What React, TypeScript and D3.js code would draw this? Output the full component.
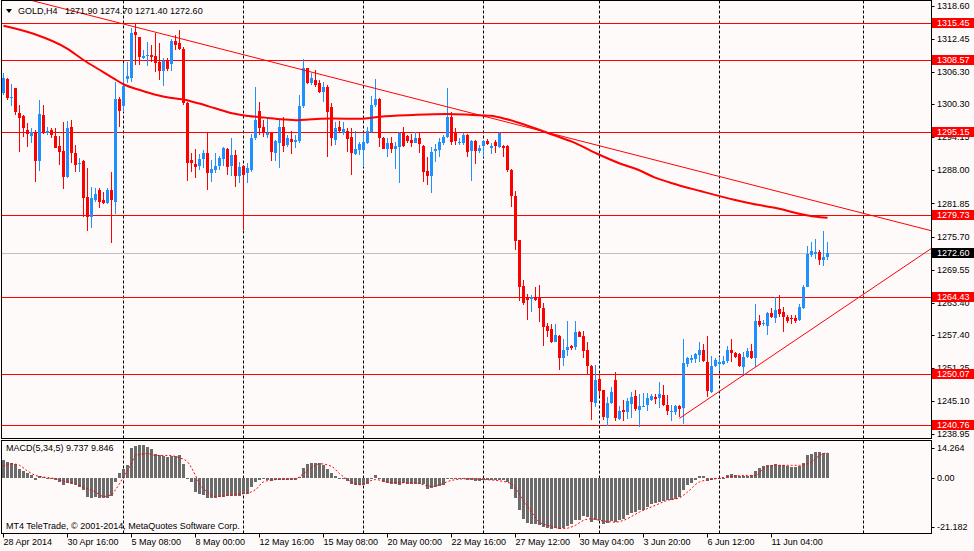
import React from "react";
import * as d3 from "d3";

const WIDTH = 974;
const HEIGHT = 551;

// H4 candles, one per bar index (28 Apr 2014 00:00 = bar 0)
const opens = [
  1302.32, 1304.99, 1301.4, 1303.25, 1298.73, 1298.18, 1295.51, 1294.46, 1295.2, 1289.82,
  1298.3, 1294.9, 1295.51, 1294.46, 1292.6, 1291.68, 1286.73, 1296.13, 1291.18, 1289.14,
  1289.82, 1283.01, 1279.24, 1282.52, 1284.37, 1282.52, 1282.02, 1284.37, 1282.21, 1301.21,
  1300.03, 1304.99, 1305.23, 1313.77, 1312.85, 1308.95, 1309.26, 1309.44, 1309.32, 1308.2,
  1306.47, 1308.51, 1307.8, 1312.1, 1311.72, 1310.5, 1300.46, 1289.94, 1289.26, 1288.89,
  1290.07, 1291.3, 1287.47, 1288.08, 1288.83, 1290.07, 1291.92, 1288.83, 1290.87, 1286.97,
  1288.83, 1287.47, 1288.08, 1293.97, 1299.04, 1296.13, 1294.58, 1295.02, 1291.3, 1293.04,
  1296.13, 1292.73, 1293.84, 1293.22, 1293.47, 1299.97, 1306.96, 1304.18, 1304.8, 1304.18,
  1302.51, 1303.56, 1299.84, 1293.65, 1296.13, 1295.01, 1295.32, 1294.27, 1291.05, 1291.79,
  1291.79, 1293.03, 1295.2, 1300.15, 1301.26, 1294.08, 1291.98, 1293.16, 1291.98, 1292.29,
  1295.01, 1294.46, 1293.65, 1293.16, 1294.08, 1292.54, 1287.89, 1286.97, 1291.67, 1291.79,
  1293.03, 1294.27, 1297.86, 1295.2, 1293.03, 1293.16, 1294.58, 1291.67, 1293.46, 1291.67,
  1292.54, 1293.53, 1292.23, 1293.34, 1292.41, 1292.54, 1292.54, 1288.07, 1283.24, 1275.07,
  1266.53, 1264.24, 1264.05, 1264.24, 1264.24, 1262.51, 1259.1, 1258.48, 1256.19, 1257.25,
  1253.1, 1254.65, 1255.39, 1255.14, 1258.05, 1257.25, 1254.65, 1251.55, 1244.74, 1249.2,
  1247.22, 1241.96, 1244.74, 1249.07, 1241.77, 1243.5, 1243.01, 1244.56, 1245.98, 1243.5,
  1244.12, 1244.43, 1245.36, 1245.86, 1245.67, 1246.29, 1244.31, 1243.18, 1243.18, 1244.24,
  1243.8, 1251.97, 1252.78, 1252.9, 1253.71, 1254.64, 1252.34, 1246.9, 1251.73, 1251.97,
  1252.04, 1252.66, 1254.64, 1254.14, 1253.89, 1251.54, 1253.4, 1254.51, 1253.09, 1260.02,
  1259.46, 1259.09, 1261.57, 1260.64, 1262.25, 1261.63, 1260.83, 1260.64, 1260.52, 1260.21,
  1262.5, 1266.27, 1272.28, 1272.46, 1272.9, 1271.35, 1271.9,
];
const highs = [
  1306.04, 1305.23, 1304.0, 1303.38, 1300.16, 1298.3, 1296.75, 1295.82, 1295.51, 1301.09,
  1300.16, 1296.13, 1295.82, 1295.82, 1294.46, 1297.06, 1297.19, 1297.37, 1292.73, 1290.25,
  1289.94, 1288.4, 1284.87, 1284.68, 1284.68, 1284.06, 1284.81, 1287.78, 1304.49, 1301.7,
  1307.71, 1308.2, 1314.39, 1315.2, 1312.85, 1310.37, 1311.92, 1311.3, 1313.47, 1311.61,
  1308.82, 1308.82, 1312.41, 1313.15, 1314.08, 1310.9, 1300.76, 1291.18, 1291.92, 1291.06,
  1291.8, 1295.08, 1289.94, 1291.3, 1290.75, 1292.42, 1292.11, 1293.97, 1291.8, 1289.63,
  1289.01, 1289.32, 1294.71, 1303.56, 1300.77, 1297.37, 1297.68, 1295.2, 1293.66, 1297.37,
  1297.99, 1294.58, 1295.33, 1294.58, 1302.01, 1308.7, 1307.09, 1306.04, 1306.65, 1304.8,
  1304.49, 1303.87, 1300.46, 1297.06, 1297.24, 1297.06, 1295.82, 1295.82, 1295.38, 1293.34,
  1294.89, 1296.13, 1301.82, 1304.92, 1301.39, 1294.27, 1293.96, 1294.27, 1293.34, 1295.2,
  1296.13, 1294.58, 1294.7, 1295.2, 1294.89, 1292.72, 1290.56, 1292.41, 1292.91, 1293.96,
  1294.58, 1303.25, 1298.91, 1295.82, 1293.96, 1294.89, 1294.7, 1293.65, 1293.65, 1292.72,
  1293.65, 1293.84, 1293.16, 1293.65, 1295.2, 1292.72, 1292.72, 1288.2, 1284.17, 1275.07,
  1267.64, 1264.98, 1264.86, 1266.41, 1266.72, 1263.31, 1259.6, 1259.41, 1259.41, 1257.43,
  1256.69, 1260.03, 1255.57, 1260.03, 1258.17, 1258.17, 1256.19, 1251.86, 1251.86, 1250.13,
  1247.22, 1245.79, 1247.65, 1250.44, 1244.12, 1245.36, 1245.67, 1246.78, 1247.22, 1246.41,
  1246.6, 1246.6, 1246.41, 1246.41, 1248.64, 1248.02, 1246.29, 1244.42, 1244.42, 1244.42,
  1256.68, 1253.4, 1253.71, 1254.02, 1256.18, 1255.75, 1257.23, 1253.52, 1253.09, 1253.4,
  1253.52, 1255.44, 1256.62, 1254.33, 1254.14, 1254.33, 1254.95, 1255.69, 1263.18, 1261.13,
  1260.21, 1261.75, 1262.37, 1264.42, 1264.85, 1262.68, 1261.13, 1261.13, 1261.13, 1263.18,
  1266.7, 1273.95, 1274.75, 1275.19, 1273.2, 1276.73, 1274.7,
];
const lows = [
  1302.01, 1301.09, 1300.03, 1298.3, 1291.49, 1294.28, 1292.42, 1293.04, 1285.8, 1287.96,
  1294.77, 1294.59, 1294.09, 1292.11, 1289.02, 1284.56, 1286.54, 1289.33, 1287.65, 1287.78,
  1279.24, 1276.76, 1277.25, 1282.21, 1281.09, 1281.71, 1281.71, 1274.59, 1279.85, 1296.13,
  1298.8, 1304.18, 1304.49, 1307.59, 1307.59, 1308.7, 1307.46, 1308.2, 1306.22, 1304.8,
  1303.75, 1306.47, 1306.52, 1310.37, 1310.37, 1300.2, 1286.0, 1287.77, 1286.66, 1288.08,
  1288.39, 1284.37, 1285.92, 1287.47, 1288.08, 1288.83, 1287.16, 1286.97, 1284.99, 1285.61,
  1276.94, 1285.61, 1287.77, 1293.66, 1294.58, 1294.28, 1294.09, 1289.76, 1289.76, 1288.52,
  1291.49, 1292.42, 1291.12, 1292.23, 1293.04, 1299.66, 1304.0, 1303.87, 1303.56, 1302.32,
  1300.77, 1290.56, 1292.54, 1292.72, 1294.89, 1294.58, 1291.48, 1287.15, 1290.87, 1290.87,
  1288.7, 1292.91, 1294.89, 1299.84, 1292.41, 1291.92, 1290.56, 1291.3, 1288.2, 1285.6,
  1292.41, 1293.16, 1292.41, 1293.03, 1291.18, 1285.91, 1285.29, 1283.87, 1289.63, 1290.56,
  1292.72, 1293.96, 1292.72, 1292.72, 1292.72, 1292.72, 1290.56, 1286.1, 1289.13, 1291.3,
  1290.43, 1292.72, 1290.99, 1291.3, 1292.1, 1290.56, 1287.77, 1281.26, 1273.21, 1263.81,
  1263.0, 1260.22, 1261.76, 1263.81, 1259.91, 1255.39, 1257.12, 1255.88, 1256.07, 1250.81,
  1251.55, 1253.41, 1254.65, 1254.65, 1256.94, 1253.1, 1249.88, 1241.65, 1243.94, 1245.98,
  1241.65, 1240.41, 1244.56, 1241.34, 1241.52, 1241.34, 1241.83, 1241.96, 1243.19, 1240.29,
  1243.94, 1243.19, 1245.05, 1244.56, 1243.81, 1244.12, 1242.57, 1241.33, 1242.56, 1242.25,
  1240.83, 1251.54, 1252.16, 1252.16, 1252.47, 1252.47, 1245.97, 1246.59, 1251.54, 1250.92,
  1251.85, 1252.16, 1252.47, 1253.09, 1251.54, 1249.81, 1253.09, 1252.9, 1251.54, 1258.97,
  1259.09, 1257.42, 1260.52, 1259.71, 1260.83, 1258.04, 1259.71, 1259.46, 1259.71, 1260.08,
  1262.19, 1266.27, 1271.84, 1271.47, 1270.42, 1270.23, 1271.4,
];
const closes = [
  1305.11, 1301.4, 1301.58, 1298.8, 1297.68, 1295.82, 1294.71, 1295.2, 1289.82, 1298.49,
  1294.9, 1295.33, 1294.59, 1292.23, 1291.49, 1286.85, 1295.95, 1291.18, 1289.02, 1289.45,
  1282.95, 1279.24, 1282.83, 1283.63, 1282.21, 1282.02, 1284.37, 1282.52, 1301.27, 1299.04,
  1303.69, 1305.54, 1313.59, 1313.16, 1309.01, 1309.26, 1309.44, 1309.01, 1308.02, 1306.47,
  1308.39, 1306.84, 1312.1, 1311.3, 1310.5, 1300.46, 1289.4, 1289.45, 1288.7, 1290.13,
  1291.18, 1287.59, 1288.21, 1288.83, 1290.25, 1292.11, 1288.7, 1290.87, 1286.97, 1288.58,
  1287.16, 1288.39, 1293.97, 1297.37, 1295.95, 1295.2, 1295.02, 1291.49, 1293.47, 1296.13,
  1292.6, 1293.97, 1293.35, 1293.66, 1299.97, 1306.96, 1304.18, 1305.23, 1303.87, 1302.63,
  1303.56, 1298.92, 1293.96, 1295.94, 1295.32, 1295.63, 1293.84, 1291.18, 1291.98, 1292.91,
  1293.34, 1295.32, 1300.15, 1301.26, 1294.08, 1291.98, 1293.03, 1291.98, 1292.54, 1295.01,
  1292.54, 1293.53, 1293.16, 1293.96, 1292.91, 1287.77, 1286.97, 1291.48, 1291.98, 1293.34,
  1294.27, 1297.98, 1293.34, 1293.46, 1293.34, 1294.58, 1291.48, 1293.46, 1291.67, 1292.23,
  1293.46, 1292.91, 1292.54, 1292.54, 1295.01, 1292.23, 1288.07, 1283.24, 1274.89, 1266.41,
  1263.44, 1263.93, 1264.42, 1263.93, 1262.51, 1258.98, 1258.17, 1256.01, 1257.43, 1253.1,
  1254.65, 1255.26, 1254.95, 1258.05, 1257.12, 1254.34, 1251.55, 1244.87, 1249.07, 1247.03,
  1242.08, 1244.74, 1246.72, 1241.96, 1243.19, 1243.01, 1245.05, 1245.86, 1243.63, 1244.25,
  1244.25, 1245.67, 1245.98, 1245.48, 1246.47, 1244.31, 1243.19, 1243.37, 1244.24, 1243.68,
  1252.16, 1253.09, 1253.21, 1253.89, 1254.64, 1252.66, 1247.02, 1251.73, 1252.78, 1252.34,
  1252.66, 1254.64, 1254.14, 1253.4, 1251.73, 1253.4, 1254.51, 1253.09, 1260.02, 1259.28,
  1259.59, 1261.44, 1260.7, 1262.06, 1261.26, 1260.7, 1260.02, 1260.33, 1260.08, 1262.68,
  1266.27, 1272.4, 1273.02, 1272.9, 1271.35, 1271.97, 1272.6,
];

// MACD(5,34,5) histogram, one value per bar
const macdHist = [
  6.81, 6.16, 5.91, 5.26, 3.6, 2.7, 1.93, 1.03, -0.9, 0.64,
  0.39, 0.13, -0.26, -0.64, -1.54, -2.57, -1.93, -2.18, -2.57, -3.47,
  -4.75, -7.32, -7.58, -7.32, -7.7, -7.58, -7.58, -7.06, -1.54, 1.93,
  3.6, 4.88, 11.5, 12.4, 12.8, 12.6, 12.0, 11.2, 9.12, 8.73,
  8.35, 8.09, 8.35, 8.35, 8.73, 5.52, -0.26, -1.54, -5.39, -6.29,
  -6.68, -7.58, -7.58, -7.58, -7.32, -7.32, -7.06, -7.06, -7.06, -7.06,
  -6.03, -6.03, -3.47, -1.54, -0.64, 0.13, -0.64, -1.16, -0.9, -0.9,
  -0.64, -0.64, -0.64, -0.64, 0.39, 3.98, 5.26, 5.91, 5.91, 5.78,
  4.88, 3.6, 1.93, 0.64, -0.26, -0.26, -1.16, -2.18, -2.57, -2.82,
  -2.57, -2.18, -0.26, 1.03, -0.26, -1.54, -1.8, -2.18, -2.18, -2.57,
  -1.93, -2.18, -2.18, -2.18, -2.18, -2.18, -4.11, -3.85, -3.47, -3.21,
  -2.57, 0.13, -0.26, -0.26, -0.26, -0.51, -0.64, -0.64, -1.16, -1.28,
  -0.9, -0.9, -0.64, -0.64, -0.64, -0.9, -1.54, -4.11, -7.58, -12.45,
  -15.67, -17.33, -17.85, -17.85, -18.23, -18.87, -19.26, -19.52, -19.26, -19.52,
  -19.13, -18.62, -17.85, -16.31, -16.05, -14.77, -15.02, -16.95, -16.31, -16.31,
  -17.59, -17.33, -16.56, -16.95, -16.31, -15.67, -14.38, -13.48, -13.1, -12.45,
  -12.2, -11.17, -10.14, -9.63, -9.24, -8.86, -8.35, -8.35, -8.22, -7.32,
  -4.75, -2.82, -1.8, -0.64, 0.64, 0.64, -1.28, -0.9, -0.51, -0.26,
  0.05, 1.03, 1.41, 1.03, 0.77, 0.64, 0.77, 1.03, 2.57, 3.85,
  4.49, 4.88, 4.88, 5.26, 4.88, 4.88, 4.49, 4.24, 4.24, 4.49,
  5.78, 8.73, 9.37, 10.02, 10.02, 9.63, 9.737,
];

// signal line, read as [bar, value]
const signalPoints: [number, number][] = [
  [0, 4.5], [2, 5.5], [4, 4.9], [6, 2.7], [8, 1.0], [10, 0.4], [13, -0.3], [15, -1.2],
  [18, -2.2], [20, -3.5], [23, -5.4], [25, -7.1], [27, -6.4], [28, -4.5], [29, -2.2],
  [30, 0.4], [32, 5.5], [33, 8.7], [36, 9.4], [38, 8.7], [41, 8.7], [44, 7.8], [46, 6.2],
  [48, 1.0], [49, -2.2], [51, -5.4], [53, -7.1], [58, -6.3], [61, -5.8], [63, -4.5],
  [65, -1.5], [68, -0.6], [73, -0.3], [75, 1.7], [78, 4.9], [79, 5.5], [82, 4.5],
  [84, 1.7], [87, -1.5], [89, -2.6], [91, -1.5], [93, -0.6], [96, -1.5], [99, -1.8],
  [103, -1.9], [107, -3.2], [109, -2.6], [112, -0.9], [116, -0.3], [120, -0.6],
  [123, -0.9], [127, -2.2], [128, -4.1], [132, -13.1], [134, -17.0], [136, -18.2],
  [140, -19.5], [143, -18.2], [145, -16.3], [147, -15.7], [149, -16.3], [153, -17.0],
  [155, -16.3], [159, -13.1], [163, -10.5], [166, -8.6], [169, -7.6], [171, -5.4],
  [174, -1.5], [178, -0.3], [181, 0.4], [186, 1.0], [188, 1.0], [190, 3.6], [193, 4.9],
  [197, 4.9], [199, 4.9], [202, 6.2], [204, 8.7], [206, 9.846],
];

// moving average on the price panel, read as [bar, price]
const maPoints: [number, number][] = [
  [0, 1314.88], [7.5, 1313.38], [15.8, 1310.68], [20, 1308.51], [24.1, 1306.65],
  [27.5, 1305.11], [30, 1304.0], [34.1, 1302.93], [38.3, 1302.0], [41.6, 1301.5],
  [44.6, 1301.2], [48.7, 1300.46], [52.9, 1299.53], [57.1, 1298.6], [61.3, 1298.1],
  [65.4, 1297.8], [69.6, 1297.5], [73.7, 1297.3], [76.2, 1297.45], [82.1, 1297.62],
  [89.9, 1297.6], [94.2, 1297.97], [102.4, 1298.29], [110.9, 1298.47], [117.4, 1298.29],
  [121.7, 1298.16], [125.9, 1297.49], [129.2, 1296.75], [137.5, 1294.57], [142.1, 1293.33],
  [149.1, 1290.85], [154.6, 1289.13], [158.8, 1288.07], [162.9, 1286.64], [166.7, 1285.71],
  [174.2, 1284.16], [182.9, 1282.49], [187.5, 1281.75], [193.4, 1280.95], [199.2, 1279.89],
  [204.2, 1279.28], [206, 1279.2],
];

const levels = [1315.45, 1308.57, 1295.15, 1279.73, 1264.43, 1250.07, 1240.76];
const bidPrice = 1272.6;
const priceTicks = [
  1318.6, 1312.45, 1306.3, 1300.3, 1294.15, 1288.0, 1281.85, 1275.7, 1269.55, 1263.4,
  1257.4, 1251.25, 1245.1, 1238.95,
];
const macdTicks = [14.264, 0, -21.182];
const macdTickLabels = ["14.264", "0.00", "-21.182"];
const timeLabels = [
  "28 Apr 2014", "30 Apr 16:00", "5 May 08:00", "8 May 00:00", "12 May 16:00",
  "15 May 08:00", "20 May 00:00", "22 May 16:00", "27 May 12:00", "30 May 04:00",
  "3 Jun 20:00", "6 Jun 12:00", "11 Jun 04:00",
];
const timeLabelBars = [0, 16, 32, 48, 64, 80, 96, 112, 128, 144, 160, 176, 192];
const weekStartBars = [30, 60, 90, 120, 149, 179, 215];
const resistanceAnchors: [number, number][] = [[30, 1315.2], [200, 1282.86]];
const supportAnchors: [number, number][] = [[169, 1241.92], [206, 1260.47]];

const BULL = "#1E90FF";
const BEAR = "#FF0000";
const BG = "#FFFAFA";
const FONT = "'Liberation Sans', Arial, sans-serif";

export default function App() {
  const plot = { left: 1.5, right: 931.5, top: 0.5, bottom: 438.5 };
  const sub = { top: 440.5, bottom: 533.5 };

  const x = d3.scaleLinear().domain([0, 1]).range([3.5, 7.5]);
  const y = d3.scaleLinear().domain([1238.95, 1318.6]).range([434.3, 5.7]);
  const ym = d3.scaleLinear().domain([-21.182, 14.264]).range([533, 441]);

  const last = closes.length - 1;
  const fmt = (v: number) => v.toFixed(2);

  const maLine = d3
    .line<[number, number]>()
    .x((d) => x(d[0]))
    .y((d) => y(d[1]))
    .curve(d3.curveMonotoneX);
  const sigLine = d3
    .line<[number, number]>()
    .x((d) => x(d[0]))
    .y((d) => ym(d[1]))
    .curve(d3.curveMonotoneX);

  const ray = (a: [number, number][], from: number, to: number) => {
    const slope = (a[1][1] - a[0][1]) / (a[1][0] - a[0][0]);
    const at = (b: number) => a[0][1] + slope * (b - a[0][0]);
    return { x1: x(from), y1: y(at(from)), x2: x(to), y2: y(at(to)) };
  };
  const res = ray(resistanceAnchors, -20, 240);
  const sup = ray(supportAnchors, supportAnchors[0][0], 240);

  const crisp = (v: number) => Math.round(v) + 0.5;
  const labelY = (v: number) =>
    Math.min(Math.max(ym(v), sub.top + 7), sub.bottom - 7);

  return (
    <div style={{ position: "absolute", left: 0, top: 0 }}>
      <svg width={WIDTH} height={HEIGHT} style={{ display: "block", fontFamily: FONT }}>
        <defs>
          <clipPath id="mainClip">
            <rect x={plot.left} y={plot.top} width={plot.right - plot.left} height={plot.bottom - plot.top} />
          </clipPath>
          <clipPath id="subClip">
            <rect x={plot.left} y={sub.top} width={plot.right - plot.left} height={sub.bottom - sub.top} />
          </clipPath>
        </defs>
        <rect width={WIDTH} height={HEIGHT} fill={BG} />

        {/* weekly grid */}
        {weekStartBars.map((b) => (
          <g key={"g" + b}>
            <line x1={crisp(x(b) - 0.5)} x2={crisp(x(b) - 0.5)} y1={plot.top} y2={plot.bottom}
              stroke="#000" strokeDasharray="3,2" />
            <line x1={crisp(x(b) - 0.5)} x2={crisp(x(b) - 0.5)} y1={sub.top} y2={sub.bottom}
              stroke="#000" strokeDasharray="3,2" />
          </g>
        ))}

        <g clipPath="url(#mainClip)">
          {levels.map((l) => (
            <line key={l} x1={plot.left} x2={plot.right} y1={crisp(y(l))} y2={crisp(y(l))} stroke="#FF0000" />
          ))}
          <line x1={plot.left} x2={plot.right} y1={crisp(y(bidPrice))} y2={crisp(y(bidPrice))} stroke="#C0C0C0" />

          {closes.map((c, i) => {
            const o = opens[i];
            const col = c >= o ? BULL : BEAR;
            const top = Math.round(y(Math.max(o, c)));
            const bot = Math.round(y(Math.min(o, c)));
            const hi = Math.round(y(highs[i]));
            const lo = Math.round(y(lows[i]));
            const cx = x(i);
            return (
              <g key={i}>
                <rect x={cx - 0.5} y={hi} width={1} height={Math.max(1, lo - hi)} fill={col} />
                <rect x={cx - 1.5} y={top} width={3} height={Math.max(1, bot - top)} fill={col} />
              </g>
            );
          })}

          <path d={maLine(maPoints) || ""} fill="none" stroke="#FF0000" strokeWidth={2} />
          <line {...res} stroke="#FF0000" strokeWidth={1} />
          <line {...sup} stroke="#FF0000" strokeWidth={1} />
        </g>

        {/* MACD panel */}
        <g clipPath="url(#subClip)">
          {macdHist.map((v, i) => {
            const y0 = Math.round(ym(0));
            const y1 = Math.round(ym(v));
            return (
              <rect key={i} x={x(i) - 1.5} y={Math.min(y0, y1)} width={3}
                height={Math.max(1, Math.abs(y1 - y0))} fill="#6B6B6B" />
            );
          })}
          <path d={sigLine(signalPoints) || ""} fill="none" stroke="#FF0000" strokeWidth={1} strokeDasharray="2,2" />
        </g>

        {/* panel borders */}
        <rect x={plot.left} y={plot.top} width={plot.right - plot.left} height={plot.bottom - plot.top}
          fill="none" stroke="#000" />
        <rect x={plot.left} y={sub.top} width={plot.right - plot.left} height={sub.bottom - sub.top}
          fill="none" stroke="#000" />

        {/* header */}
        <path d="M6,9 H12 L9,13 Z" fill="#000" />
        <text x={18} y={14} fontSize={9} fill="#000">GOLD,H4</text>
        <text x={65} y={14} fontSize={9} fill="#000">
          {[opens[last], highs[last], lows[last], closes[last]].map(fmt).join(" ")}
        </text>
        <text x={6} y={451} fontSize={9} fill="#000">
          {`MACD(5,34,5) ${macdHist[last].toFixed(3)} ${signalPoints[signalPoints.length - 1][1].toFixed(3)}`}
        </text>
        <text x={6} y={529} fontSize={9} fill="#000">
          MT4 TeleTrade, © 2001-2014, MetaQuotes Software Corp.
        </text>

        {/* price axis */}
        {priceTicks.map((t) => (
          <g key={t}>
            <line x1={plot.right} x2={plot.right + 3} y1={crisp(y(t))} y2={crisp(y(t))} stroke="#000" />
            <text x={937} y={y(t)} dy="0.34em" fontSize={9} fill="#000">{fmt(t)}</text>
          </g>
        ))}
        {levels.map((l) => (
          <g key={"lab" + l}>
            <rect x={932} y={Math.round(y(l)) - 5} width={42} height={10} fill="#FF0000" />
            <text x={937} y={Math.round(y(l))} dy="0.36em" fontSize={9} fill="#FFF">{fmt(l)}</text>
          </g>
        ))}
        <rect x={932} y={Math.round(y(bidPrice)) - 5} width={42} height={10} fill="#000" />
        <text x={937} y={Math.round(y(bidPrice))} dy="0.36em" fontSize={9} fill="#FFF">{fmt(bidPrice)}</text>

        {/* MACD axis */}
        {macdTicks.map((t, i) => (
          <g key={"m" + t}>
            <line x1={plot.right} x2={plot.right + 3} y1={crisp(labelY(t))} y2={crisp(labelY(t))} stroke="#000" />
            <text x={937} y={labelY(t)} dy="0.34em" fontSize={9} fill="#000">{macdTickLabels[i]}</text>
          </g>
        ))}

        {/* time axis */}
        {timeLabels.map((lab, i) => {
          const tx = x(timeLabelBars[i]);
          return (
            <g key={lab}>
              <line x1={crisp(tx - 0.5)} x2={crisp(tx - 0.5)} y1={sub.bottom} y2={sub.bottom + 4} stroke="#000" />
              <text x={tx} y={545} fontSize={9} fill="#000">{lab}</text>
            </g>
          );
        })}
      </svg>
    </div>
  );
}
